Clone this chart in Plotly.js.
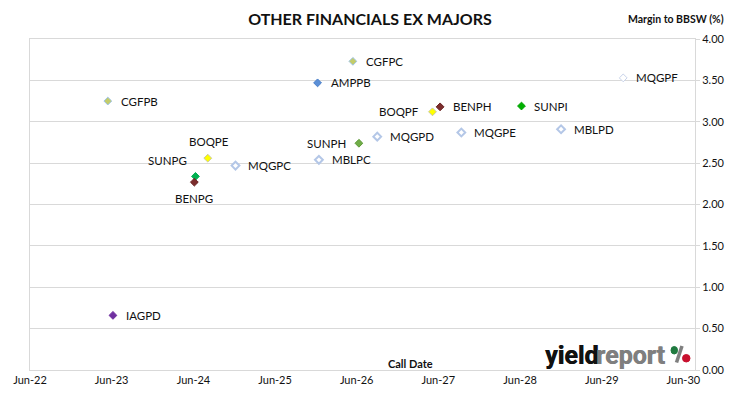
<!DOCTYPE html>
<html>
<head>
<meta charset="utf-8">
<script src="https://cdn.plot.ly/plotly-3.0.1.min.js"></script>
<style>html,body{margin:0;padding:0;background:#fff;}#chart{width:730px;height:399px;}</style>
</head>
<body>
<div id="chart"></div>
<script>
// ---- Data ----
const securities = ["CGFPB","IAGPD","SUNPG","BENPG","BOQPE","MQGPC","AMPPB","MBLPC","CGFPC","SUNPH","MQGPD","BOQPF","BENPH","MQGPE","SUNPI","MBLPD","MQGPF"];
const callDates  = ["2023-05-15","2023-06-07","2024-06-10","2024-06-05","2024-08-04","2024-12-06","2025-12-08","2025-12-14","2026-05-15","2026-06-11","2026-09-01","2027-05-06","2027-06-09","2027-09-12","2028-06-07","2028-12-01","2029-09-05"];
const margins    = [3.25, 0.66, 2.34, 2.27, 2.56, 2.47, 3.47, 2.54, 3.73, 2.74, 2.82, 3.12, 3.18, 2.87, 3.19, 2.91, 3.53];

// ---- Styles (not data) ----
const styleOf = {
  CGFPB:{fill:"#c3cc6a",line:"#9dc3e6",w:1}, CGFPC:{fill:"#c3cc6a",line:"#9dc3e6",w:1},
  IAGPD:{fill:"#7030a0",line:"#7030a0",w:1},
  SUNPG:{fill:"#00b050",line:"#00b050",w:1}, SUNPH:{fill:"#70ad47",line:"#5e9a3a",w:1}, SUNPI:{fill:"#00b000",line:"#00a000",w:1},
  BENPG:{fill:"#7b2c2c",line:"#6b2424",w:1}, BENPH:{fill:"#7b2c2c",line:"#6b2424",w:1},
  BOQPE:{fill:"#ffff00",line:"#c9c9a0",w:1}, BOQPF:{fill:"#ffff00",line:"#c9c9a0",w:1},
  MQGPC:{fill:"#ffffff",line:"#b4c7e7",w:2}, MQGPD:{fill:"#ffffff",line:"#b4c7e7",w:2}, MQGPE:{fill:"#ffffff",line:"#b4c7e7",w:2},
  MBLPC:{fill:"#ffffff",line:"#b4c7e7",w:2}, MBLPD:{fill:"#ffffff",line:"#b4c7e7",w:2},
  MQGPF:{fill:"#ffffff",line:"#c8d3ea",w:1},
  AMPPB:{fill:"#5b8fd6",line:"#4a7fc9",w:1}
};
const labelPlace = {
  CGFPB:"right", IAGPD:"right", SUNPG:"upleft", BENPG:"below", BOQPE:"above", MQGPC:"right",
  AMPPB:"right", MBLPC:"right", CGFPC:"right", SUNPH:"left", MQGPD:"right", BOQPF:"left",
  BENPH:"right", MQGPE:"right", SUNPI:"right", MBLPD:"right", MQGPF:"right"
};
const placeCfg = {
  right:{xanchor:"left",xshift:11,yshift:0},
  left:{xanchor:"right",xshift:-11,yshift:0},
  upleft:{xanchor:"right",xshift:-6,yshift:15.5},
  above:{xanchor:"center",xshift:1,yshift:16.5},
  below:{xanchor:"center",xshift:0,yshift:-16}
};

const FONT = "Lato, 'Open Sans', sans-serif";
const PL = 30, PR = 695, PT = 39, PB = 370;
const px = x => (x - PL) / (PR - PL);
const py = y => (PB - y) / (PB - PT);

const trace = {
  type: "scatter", mode: "markers",
  x: callDates, y: margins, text: securities,
  marker: {
    symbol: "diamond", size: 6,
    color: securities.map(s => styleOf[s].fill),
    line: {color: securities.map(s => styleOf[s].line), width: securities.map(s => styleOf[s].w)}
  },
  hoverinfo: "text+y", showlegend: false
};

const annotations = securities.map((s, i) => {
  const c = placeCfg[labelPlace[s]];
  return {x: callDates[i], y: margins[i], xref: "x", yref: "y", text: s, showarrow: false,
    xanchor: c.xanchor, yanchor: "middle", xshift: c.xshift, yshift: c.yshift,
    font: {family: FONT, size: 11.5, color: "#111"}};
});
annotations.push(
  {xref:"paper", yref:"paper", x: px(676), y: py(19), text:"<b>Margin to BBSW (%)</b>", showarrow:false,
   xanchor:"center", yanchor:"middle", font:{family:FONT, size:10.5, color:"#111"}},
  {xref:"paper", yref:"paper", x: px(411), y: py(363), text:"<b>Call Date</b>", showarrow:false,
   xanchor:"center", yanchor:"middle", font:{family:FONT, size:11, color:"#111"}},
  {xref:"paper", yref:"paper", x: px(543), y: py(355.5), text:"<b>yield</b>", showarrow:false,
   xanchor:"left", yanchor:"middle",
   font:{family:"Roboto, sans-serif", size:25, weight:900, color:"#111", shadow:"0.6px 0 0 #111"}},
  {xref:"paper", yref:"paper", x: px(594), y: py(355.5), text:"<b>report</b>", showarrow:false,
   xanchor:"left", yanchor:"middle",
   font:{family:"Roboto, sans-serif", size:25, weight:900, color:"#7f7f7f", shadow:"0.6px 0 0 #7f7f7f"}}
);

const shapes = [
  {type:"line", xref:"paper", yref:"paper", x0:px(682), y0:py(346), x1:px(676.5), y1:py(362.5), line:{color:"#7f7f7f", width:3.5}},
  {type:"circle", xref:"paper", yref:"paper", x0:px(671), y0:py(354), x1:px(677.5), y1:py(346.5), fillcolor:"#1f7a3f", line:{color:"#1f7a3f", width:1}},
  {type:"circle", xref:"paper", yref:"paper", x0:px(682.5), y0:py(362), x1:px(690), y1:py(354.5), fillcolor:"#c8102e", line:{color:"#c8102e", width:1}}
];

const layout = {
  width: 730, height: 399,
  margin: {l: PL, r: 730 - PR, t: PT, b: 399 - PB, pad: 0},
  paper_bgcolor: "#ffffff", plot_bgcolor: "#ffffff",
  title: {text: "<b>OTHER FINANCIALS EX MAJORS</b>", x: 370/730, xref: "container", xanchor: "center",
          y: 1 - 19/399, yref: "container", yanchor: "middle",
          font: {family: FONT, size: 16, color: "#111"}},
  xaxis: {type: "date", range: ["2022-06-01", "2030-07-23"], tick0: "2022-06-01", dtick: "M12", tickformat: "%b-%y",
          showgrid: false, zeroline: false, showline: true, mirror: true, linecolor: "#d9d9d9", linewidth: 1,
          ticks: "", tickfont: {family: FONT, size: 11, color: "#111"}, fixedrange: true},
  yaxis: {range: [0, 4], dtick: 0.5, tick0: 0, tickformat: ".2f", side: "right",
          showgrid: true, gridcolor: "#d9d9d9", gridwidth: 1, zeroline: false,
          showline: true, mirror: true, linecolor: "#d9d9d9", linewidth: 1,
          ticks: "outside", ticklen: 4, tickcolor: "#d9d9d9",
          tickfont: {family: FONT, size: 11, color: "#111"}, fixedrange: true},
  annotations: annotations,
  shapes: shapes,
  showlegend: false
};

Plotly.newPlot("chart", [trace], layout, {displayModeBar: false, staticPlot: true});
</script>
</body>
</html>
